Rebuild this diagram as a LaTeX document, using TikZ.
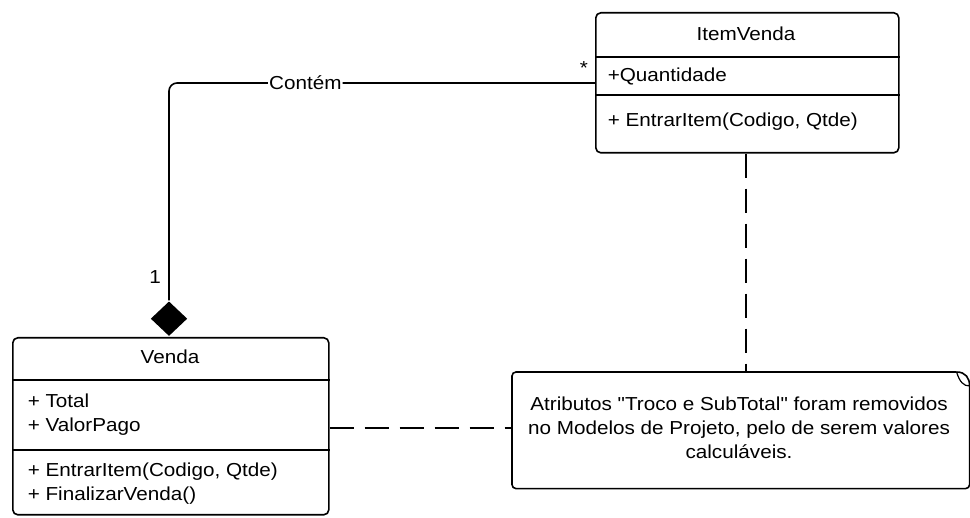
\documentclass[tikz,border=0pt]{standalone}
\usepackage{fontspec}
\setmainfont{Liberation Sans}[FakeStretch=1.1,Ligatures=TeXOff]
\usetikzlibrary{calc,shapes.geometric}
\begin{document}
\begin{tikzpicture}[x=1pt,y=-1pt,line width=1.6pt,
  classbox/.style={draw,rounded corners=5pt,inner sep=0pt,anchor=north west},
  txt/.style={font=\fontsize{18.8}{24}\selectfont,inner sep=0pt},
  member/.style={txt,anchor=west,align=left},
  depline/.style={line width=1.6pt,dash pattern=on 24pt off 11pt}]
\useasboundingbox[fill=white] (0,0) rectangle (970,518);

% classes
\node[classbox,minimum width=303pt,minimum height=140pt] (item) at (595,12) {};
\node[classbox,minimum width=316pt,minimum height=177pt] (venda) at (12,337) {};

% compartment separators
\draw ([yshift=-45pt]item.north west) -- ([yshift=-45pt]item.north east);
\draw ([yshift=-83pt]item.north west) -- ([yshift=-83pt]item.north east);
\draw ([yshift=-43pt]venda.north west) -- ([yshift=-43pt]venda.north east);
\draw ([yshift=-113pt]venda.north west) -- ([yshift=-113pt]venda.north east);

% class texts
\node[txt] (itemname) at (746,34) {ItemVenda};
\node[member] (itemattr) at (607,76) {+Quantidade};
\node[member] (itemop) at (607,122) {+ EntrarItem(Codigo, Qtde)};
\node[txt] (vendaname) at (170,357) {Venda};
\node[member] (vendaattr) at (27,415) {+ Total\\+ ValorPago};
\node[member] (vendaop) at (27,484) {+ EntrarItem(Codigo, Qtde)\\+ FinalizarVenda()};

% note with curled corner
\node[inner sep=0pt,minimum width=456pt,minimum height=115pt,anchor=north west] (note) at (512,372) {};
\draw[rounded corners=4pt] ($(note.north east)+(-13pt,0)$) -- (note.north west) -- (note.south west) -- (note.south east) -- ($(note.north east)+(0,-14pt)$);
\draw ($(note.north east)+(-13pt,0)$) .. controls ($(note.north east)+(-4pt,0)$) and ($(note.north east)+(0,-6pt)$) .. ($(note.north east)+(0,-14pt)$);
\draw[line width=1.2pt] ($(note.north east)+(-13pt,0)$) .. controls ($(note.north east)+(-10pt,-10pt)$) and ($(note.north east)+(-6pt,-14pt)$) .. ($(note.north east)+(0,-14pt)$);
\node[txt,align=center] (notetext) at (739,428) {Atributos "Troco e SubTotal" foram removidos\\ no Modelos de Projeto, pelo de serem valores\\calculáveis.};

% composition Venda <>-- ItemVenda
\node[diamond,fill=black,inner sep=0pt,minimum width=37pt,minimum height=35pt,anchor=south] (comp) at ([xshift=157pt]venda.north west) {};
\coordinate (itemend) at ([yshift=-71pt]item.north west);
\draw[rounded corners=8pt] (comp.north) |- (itemend)
  node[pos=0.66,txt,fill=white,inner xsep=1pt] (assoc) {Contém};
\node[txt] (multone) at (155,277) {1};
\node[txt] (multmany) at (584,68) {*};

% note attachments
\draw[depline] ([xshift=151pt]item.south west) -- ([xshift=234pt]note.north west);
\draw[depline] ([yshift=-91pt]venda.north east) -- ([yshift=-56pt]note.north west);
\end{tikzpicture}
\end{document}
